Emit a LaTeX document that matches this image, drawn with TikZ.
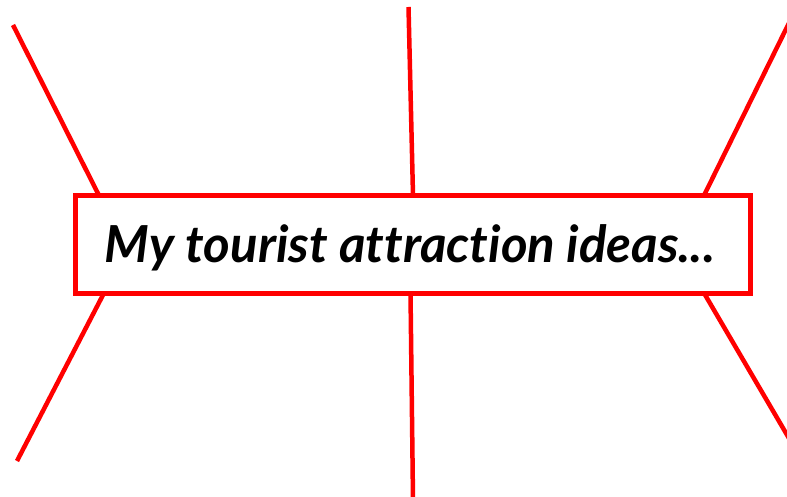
\documentclass[tikz,border=0pt]{standalone}
\usepackage{fontspec}
\setmainfont{Lato}[Ligatures=NoCommon]
\usetikzlibrary{calc}
\definecolor{spoke}{RGB}{255,0,0}
\tikzset{
  titlebox/.style={draw=spoke, line width=5pt, fill=white, minimum width=675pt, minimum height=97.5pt, inner sep=0pt, outer sep=0pt},
  spokeline/.style={draw=spoke, line width=4.5pt}
}
\begin{document}
\begin{tikzpicture}[x=1pt,y=-1pt]
\useasboundingbox (0,0) rectangle (787,497);
\node[titlebox] (box) at (413,244.25) {};
\node[inner sep=0pt, anchor=base] (title) at (410,262) {\resizebox{610pt}{!}{\bfseries\itshape My tourist attraction ideas...}};
% outer ends
\coordinate (tl) at (13,25);
\coordinate (tm) at (408.5,7);
\coordinate (tr) at (790,21);
\coordinate (bl) at (17,461);
\coordinate (bm) at (413,500);
\coordinate (br) at (790,440);
% box ends
\coordinate (tlb) at (99,193);
\coordinate (tmb) at (413,193);
\coordinate (trb) at (704,193);
\coordinate (blb) at (104,296);
\coordinate (bmb) at (410.5,296);
\coordinate (brb) at (704,296);
\draw[spokeline] (tl) -- (tlb|-box.north);
\draw[spokeline] (tm) -- (tmb|-box.north);
\draw[spokeline] (tr) -- (trb|-box.north);
\draw[spokeline] (bl) -- (blb|-box.south);
\draw[spokeline] (bm) -- (bmb|-box.south);
\draw[spokeline] (br) -- (brb|-box.south);
\end{tikzpicture}
\end{document}
